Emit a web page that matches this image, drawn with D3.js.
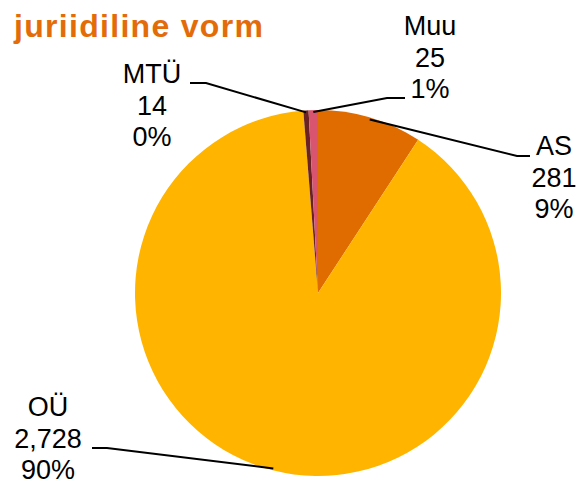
<!DOCTYPE html>
<meta charset="utf-8">
<head>
    <script type="text/javascript" src="https://d3js.org/d3.v7.min.js"></script>
    <style>
        body { margin: 0; background: #fff; }
        text { font-family: "Liberation Sans", Arial, sans-serif; }
    </style>
</head>
<body>
    <div id="pie"></div>
    <script>
    // data
    var categories = ["AS", "OÜ", "MTÜ", "Muu"];
    var counts = [281, 2728, 14, 25];
    var colors = ["#e06c00", "#ffb400", "#6b2222", "#d9546e"];

    var width = 577, height = 484;
    var cx = 318, cy = 293, radius = 183;

    // label layout: text centre x, first baseline y, leader elbow + end
    var labelPos = {
        "AS":  {tx: 554, ty: 155, elbowX: 517, endX: 530, lineY: 156},
        "OÜ":  {tx: 48,  ty: 416, elbowX: 107, endX: 92,  lineY: 448},
        "MTÜ": {tx: 152, ty: 83,  elbowX: 206, endX: 190, lineY: 83},
        "Muu": {tx: 430, ty: 35,  elbowX: 387, endX: 405, lineY: 98}
    };

    var svg = d3.select("#pie").append("svg")
        .attr("width", width).attr("height", height);

    svg.append("text")
        .attr("x", 14).attr("y", 37)
        .style("font-size", "32px")
        .style("font-weight", "bold")
        .style("letter-spacing", "1.3px")
        .attr("fill", "#e36c09")
        .text("juriidiline vorm");

    var data = categories.map(function(c, i){ return {name: c, value: counts[i], color: colors[i]}; });
    var total = d3.sum(counts);

    var pie = d3.pie().sort(null).value(function(d){ return d.value; });
    var arc = d3.arc().innerRadius(0).outerRadius(radius);

    var g = svg.append("g").attr("transform", "translate(" + cx + "," + cy + ")");
    var arcs = pie(data);

    g.selectAll("path").data(arcs).enter().append("path")
        .attr("d", arc)
        .attr("fill", function(d){ return d.data.color; });

    var fmt = d3.format(",");

    arcs.forEach(function(d){
        var p = labelPos[d.data.name];
        var mid = (d.startAngle + d.endAngle) / 2;
        var sx = cx + Math.sin(mid) * (radius - 2);
        var sy = cy - Math.cos(mid) * (radius - 2);
        svg.append("polyline")
            .attr("points", [[sx, sy], [p.elbowX, p.lineY], [p.endX, p.lineY]].join(" "))
            .attr("fill", "none")
            .attr("stroke", "#000")
            .attr("stroke-width", 2);

        var lines = [d.data.name, fmt(d.data.value), Math.round(d.data.value / total * 100) + "%"];
        var t = svg.append("text")
            .attr("text-anchor", "middle")
            .style("font-size", "27px")
            .attr("fill", "#000");
        lines.forEach(function(s, i){
            t.append("tspan").attr("x", p.tx).attr("y", p.ty + i * 31.5).text(s);
        });
    });
    </script>
</body>
</html>
